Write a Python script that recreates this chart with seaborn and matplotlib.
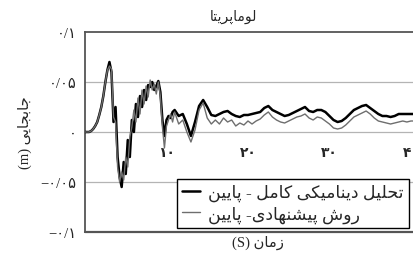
import matplotlib
matplotlib.use("Agg")
import matplotlib.pyplot as plt
import seaborn as sns

# ----------------------------------------------------------------------
# Data
# ----------------------------------------------------------------------
time_s = [
    0, 0.25, 0.5, 0.75, 1.0, 1.25, 1.5, 1.75, 2.0, 2.25, 2.5, 2.75,
    3.0, 3.25, 3.5, 3.75, 4.0, 4.25, 4.5, 4.75, 5.0, 5.25, 5.5, 5.75,
    6.0, 6.25, 6.5, 6.75, 7.0, 7.25, 7.5, 7.75, 8.0, 8.25, 8.5, 8.75,
    9.0, 9.25, 9.5, 9.75, 10.0, 10.25, 10.5, 10.75, 11.0,
    11.5, 12.0, 12.5, 13.0, 13.5, 14.0, 14.5, 15.0, 15.5, 16.0, 16.5,
    17.0, 17.5, 18.0, 18.5, 19.0, 19.5, 20.0, 20.5, 21.0, 21.5, 22.0,
    22.5, 23.0, 23.5, 24.0, 24.5, 25.0, 25.5, 26.0, 26.5, 27.0, 27.5,
    28.0, 28.5, 29.0, 29.5, 30.0, 30.5, 31.0, 31.5, 32.0, 32.5, 33.0,
    33.5, 34.0, 34.5, 35.0, 35.5, 36.0, 36.5, 37.0, 37.5, 38.0, 38.5,
    39.0, 39.5, 40.0, 40.5,
]

# full dynamic analysis - bottom (thick black)
full_dynamic = [
    0.000, 0.000, 0.000, 0.001, 0.003, 0.006, 0.010, 0.017, 0.025, 0.036, 0.050, 0.062,
    0.070, 0.060, 0.010, 0.025, -0.025, -0.045, -0.055, -0.030, -0.042, -0.008, -0.025, 0.012,
    0.000, 0.028, 0.015, 0.036, 0.025, 0.042, 0.032, 0.047, 0.045, 0.050, 0.042, 0.046,
    0.051, 0.040, 0.012, -0.004, 0.012, 0.016, 0.014, 0.020, 0.022,
    0.016, 0.018, 0.008, -0.004, 0.010, 0.026, 0.032, 0.025, 0.017, 0.016, 0.018,
    0.020, 0.021, 0.018, 0.016, 0.015, 0.017, 0.017, 0.018, 0.019, 0.020, 0.024,
    0.026, 0.022, 0.020, 0.018, 0.016, 0.017, 0.019, 0.021, 0.023, 0.025, 0.021,
    0.020, 0.022, 0.022, 0.020, 0.016, 0.012, 0.010, 0.011, 0.014, 0.018, 0.022,
    0.024, 0.026, 0.027, 0.024, 0.021, 0.018, 0.016, 0.016, 0.015, 0.016, 0.018,
    0.018, 0.018, 0.018, 0.018,
]

# proposed method - bottom (thin grey)
proposed = [
    0.000, 0.000, 0.000, 0.001, 0.003, 0.006, 0.010, 0.017, 0.025, 0.036, 0.050, 0.062,
    0.066, 0.063, 0.015, 0.010, -0.035, -0.050, -0.040, -0.048, -0.025, -0.035, -0.005, 0.005,
    0.022, 0.010, 0.034, 0.018, 0.042, 0.028, 0.046, 0.035, 0.052, 0.042, 0.048, 0.038,
    0.050, 0.036, 0.005, -0.016, 0.006, 0.012, 0.018, 0.010, 0.020,
    0.008, 0.012, 0.000, -0.010, 0.002, 0.022, 0.029, 0.014, 0.008, 0.012, 0.008,
    0.014, 0.010, 0.012, 0.006, 0.009, 0.007, 0.011, 0.008, 0.011, 0.013, 0.017,
    0.020, 0.015, 0.012, 0.010, 0.009, 0.011, 0.013, 0.015, 0.016, 0.018, 0.014,
    0.012, 0.015, 0.014, 0.011, 0.008, 0.004, 0.003, 0.004, 0.007, 0.011, 0.015,
    0.017, 0.019, 0.021, 0.018, 0.014, 0.011, 0.010, 0.009, 0.008, 0.009, 0.010,
    0.011, 0.010, 0.011, 0.011,
]

x_ticks = [10, 20, 30, 40]
x_tick_labels = ["۱۰", "۲۰", "۳۰", "۴۰"]
y_ticks = [-0.1, -0.05, 0, 0.05, 0.1]
y_tick_labels = ["−۰/۱", "−۰/۰۵", "۰", "۰/۰۵", "۰/۱"]

TITLE = "لوماپریتا"
Y_LABEL = "جابجایی"
X_LABEL = "زمان"
LEGEND_FULL = "تحلیل دینامیکی کامل - پایین"
LEGEND_PROPOSED = "روش پیشنهادی- پایین"


# ----------------------------------------------------------------------
# Minimal Persian shaping (matplotlib has no bidi / joining support)
# ----------------------------------------------------------------------
# letter: (isolated, final, initial, medial); right-joining letters have no initial/medial
FORMS = {
    "ا": ("\uFE8D", "\uFE8E", None, None),
    "ب": ("\uFE8F", "\uFE90", "\uFE91", "\uFE92"),
    "ت": ("\uFE95", "\uFE96", "\uFE97", "\uFE98"),
    "ج": ("\uFE9D", "\uFE9E", "\uFE9F", "\uFEA0"),
    "ح": ("\uFEA1", "\uFEA2", "\uFEA3", "\uFEA4"),
    "د": ("\uFEA9", "\uFEAA", None, None),
    "ر": ("\uFEAD", "\uFEAE", None, None),
    "ز": ("\uFEAF", "\uFEB0", None, None),
    "ش": ("\uFEB5", "\uFEB6", "\uFEB7", "\uFEB8"),
    "ل": ("\uFEDD", "\uFEDE", "\uFEDF", "\uFEE0"),
    "م": ("\uFEE1", "\uFEE2", "\uFEE3", "\uFEE4"),
    "ن": ("\uFEE5", "\uFEE6", "\uFEE7", "\uFEE8"),
    "ه": ("\uFEE9", "\uFEEA", "\uFEEB", "\uFEEC"),
    "و": ("\uFEED", "\uFEEE", None, None),
    "پ": ("\uFB56", "\uFB57", "\uFB58", "\uFB59"),
    "ک": ("\uFB8E", "\uFB8F", "\uFB90", "\uFB91"),
    "ی": ("\uFBFC", "\uFBFD", "\uFBFE", "\uFBFF"),
}


def fa(text):
    """Return visual (left-to-right) string of joined Persian text."""
    out = []
    for i, ch in enumerate(text):
        if ch not in FORMS:
            out.append(ch)
            continue
        forms = FORMS[ch]
        prev = text[i - 1] if i > 0 else None
        nxt = text[i + 1] if i + 1 < len(text) else None
        join_prev = prev in FORMS and FORMS[prev][2] is not None
        join_next = forms[2] is not None and nxt in FORMS
        if join_prev and join_next:
            out.append(forms[3])
        elif join_prev:
            out.append(forms[1])
        elif join_next:
            out.append(forms[2])
        else:
            out.append(forms[0])
    return "".join(out)[::-1]


# ----------------------------------------------------------------------
# Style
# ----------------------------------------------------------------------
sns.set_theme(style="white")
plt.rcParams["font.family"] = ["Liberation Serif", "DejaVu Sans"]

SPINE = "#555555"
GRID = "#b4b4b4"

fig = plt.figure(figsize=(4.13, 2.55), dpi=100)
ax = fig.add_axes([85 / 413, 22 / 255, 330 / 413, 200 / 255])

ax.set_xlim(0, 40.5)
ax.set_ylim(-0.1, 0.1)

for y in [-0.05, 0.05]:
    ax.axhline(y, color=GRID, linewidth=0.9, zorder=0)
# frame line at the bottom (the x axis itself sits on zero)
ax.axhline(-0.1, color=SPINE, linewidth=1.6, zorder=5, clip_on=False)

sns.lineplot(x=time_s, y=full_dynamic, ax=ax, color="black", linewidth=1.8,
             label=fa(LEGEND_FULL), zorder=3)
sns.lineplot(x=time_s, y=proposed, ax=ax, color="#6e6e6e", linewidth=1.0,
             label=fa(LEGEND_PROPOSED), zorder=4)

# y axis
ax.set_yticks(y_ticks)
ax.set_yticklabels(y_tick_labels, fontsize=10.5)
ax.tick_params(axis="y", length=0, pad=6)

# x axis on the zero line, labels below it
ax.spines["bottom"].set_position(("data", 0))
ax.spines["bottom"].set_color(GRID)
ax.spines["bottom"].set_linewidth(0.9)
ax.spines["bottom"].set_zorder(0)
ax.set_xticks(x_ticks)
ax.set_xticklabels(x_tick_labels, fontsize=10, fontweight="bold")
ax.tick_params(axis="x", length=0, pad=10)

for side in ["left", "top"]:
    ax.spines[side].set_color(SPINE)
    ax.spines[side].set_linewidth(1.3)
ax.spines["right"].set_visible(False)

leg = ax.legend(loc="lower right", bbox_to_anchor=(0.982, 0.02), borderaxespad=0,
                fontsize=12.5, frameon=True, fancybox=False, framealpha=1,
                edgecolor="black", handlelength=1.0, handletextpad=0.5,
                labelspacing=0.25, borderpad=0.3)
leg.get_frame().set_linewidth(1.0)
leg.set_zorder(6)

fig.text(233 / 413, 1 - 17 / 255, fa(TITLE), ha="center", va="center", fontsize=10)
fig.text(258 / 413, 1 - 243 / 255, "(S) " + fa(X_LABEL), ha="center", va="center", fontsize=10.5)
fig.text(25 / 413, 1 - 133 / 255, "(m) " + fa(Y_LABEL), ha="center", va="center",
         rotation=90, fontsize=10.5)

fig.savefig("out.png", dpi=100)
